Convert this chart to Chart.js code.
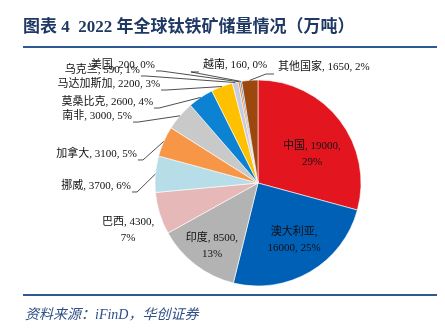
<!DOCTYPE html>
<html>
<head>
<meta charset="utf-8">
<script src="https://cdn.jsdelivr.net/npm/chart.js@4"></script>
<style>
  html, body { margin: 0; padding: 0; background: #fff; }
  #wrap { position: relative; width: 445px; height: 328px; overflow: hidden; }
  #c { position: absolute; left: 0; top: 0; }
  .titulo {
    position: absolute; left: 23px; top: 12px; line-height: 20px;
    font: bold 17px "Liberation Serif", "Noto Sans CJK SC", serif; color: #1f3864;
    white-space: nowrap;
  }
  .linha { position: absolute; left: 23px; width: 414px; background: #2e5a94; }
  .fonte {
    position: absolute; left: 25px; top: 303px; line-height: 18px;
    font: italic 14px "Liberation Serif", "Noto Sans CJK SC", serif; color: #2e4f86;
    white-space: nowrap;
  }
</style>
</head>
<body>
<div id="wrap">
  <canvas id="c" width="445" height="328"></canvas>
  <div class="titulo">图表 4&nbsp; 2022 年全球钛铁矿储量情况（万吨）</div>
  <div class="linha" style="top:46px;height:2px"></div>
  <div class="linha" style="top:294px;height:1.5px"></div>
  <div class="fonte">资料来源：iFinD，华创证券</div>
</div>
<script>
// dados
const paises = ['中国', '澳大利亚', '印度', '巴西', '挪威', '加拿大', '南非', '莫桑比克', '马达加斯加', '乌克兰', '美国', '越南', '其他国家'];
const reservas = [19000, 16000, 8500, 4300, 3700, 3100, 3000, 2600, 2200, 590, 200, 160, 1650];
const percentuais = ['29%', '25%', '13%', '7%', '6%', '5%', '5%', '4%', '3%', '1%', '0%', '0%', '2%'];

const cores = ['#e3161f', '#0060b6', '#b3b3b3', '#e6b8b7', '#b7dde8', '#f79646', '#c9c9c9',
               '#0b82d2', '#ffc000', '#c6cbe1', '#ed7d31', '#2e75b6', '#9c470d'];

// posição dos rótulos, em unidades do raio a partir do centro
const rotulos = [
  { tipo: 'dentro', pos: [0.524, -0.282], quebra: 1 },
  { tipo: 'dentro', pos: [0.35, 0.553], quebra: 0 },
  { tipo: 'dentro', pos: [-0.447, 0.612], quebra: 1 },
  { tipo: 'dentro', pos: [-1.262, 0.456], quebra: 1 },
  { tipo: 'esq', pos: [-1.233, 0.029] },
  { tipo: 'esq', pos: [-1.175, -0.282] },
  { tipo: 'esq', pos: [-1.223, -0.650] },
  { tipo: 'esq', pos: [-1.019, -0.786] },
  { tipo: 'esq', pos: [-0.951, -0.961] },
  { tipo: 'esq', pos: [-1.146, -1.097] },
  { tipo: 'esq', pos: [-1.0, -1.146] },
  { tipo: 'dir', pos: [-0.534, -1.146] },
  { tipo: 'dir', pos: [0.194, -1.126] }
];

const fonteRotulo = '11px "Liberation Serif", "Noto Sans CJK SC", serif';

const pluginRotulos = {
  id: 'rotulos',
  afterDatasetsDraw(chart) {
    const ctx = chart.ctx;
    const meta = chart.getDatasetMeta(0);
    ctx.save();
    ctx.font = fonteRotulo;
    ctx.fillStyle = '#111';
    ctx.strokeStyle = '#222';
    ctx.lineWidth = 0.8;
    ctx.textBaseline = 'middle';
    meta.data.forEach((arc, i) => {
      const { x, y, startAngle, endAngle, outerRadius } = arc.getProps(['x', 'y', 'startAngle', 'endAngle', 'outerRadius'], true);
      const r = rotulos[i];
      const px = x + r.pos[0] * outerRadius;
      const py = y + r.pos[1] * outerRadius;
      const partes = [paises[i], reservas[i], percentuais[i]];
      if (r.tipo === 'dentro') {
        ctx.textAlign = 'center';
        const l1 = partes.slice(0, r.quebra + 1).join(', ') + ',';
        const l2 = partes.slice(r.quebra + 1).join(', ');
        ctx.fillText(l1, px, py - 8);
        ctx.fillText(l2, px, py + 8);
        return;
      }
      const meio = (startAngle + endAngle) / 2;
      const ex = x + Math.cos(meio) * outerRadius;
      const ey = y + Math.sin(meio) * outerRadius;
      const texto = partes.join(', ');
      ctx.beginPath();
      if (r.tipo === 'esq') {
        ctx.textAlign = 'right';
        ctx.fillText(texto, px, py);
        ctx.moveTo(px + 1, py + 6);
        ctx.lineTo(px + 6, py + 6);
      } else {
        ctx.textAlign = 'left';
        ctx.fillText(texto, px, py);
        ctx.moveTo(px - 4, py + 7);
        ctx.lineTo(px - 12, py + 7);
      }
      ctx.lineTo(ex, ey);
      ctx.stroke();
    });
    ctx.restore();
  }
};

const grafico = new Chart(document.getElementById('c').getContext('2d'), {
  type: 'pie',
  data: {
    labels: paises,
    datasets: [{
      data: reservas,
      backgroundColor: cores,
      borderColor: '#ffffff',
      borderWidth: 0.6,
      radius: 103
    }]
  },
  options: {
    responsive: false,
    animation: false,
    layout: { padding: { left: 155, right: 84, top: 80, bottom: 42 } },
    plugins: {
      legend: { display: false },
      title: { display: false },
      tooltip: { enabled: false }
    }
  },
  plugins: [pluginRotulos]
});
</script>
</body>
</html>
